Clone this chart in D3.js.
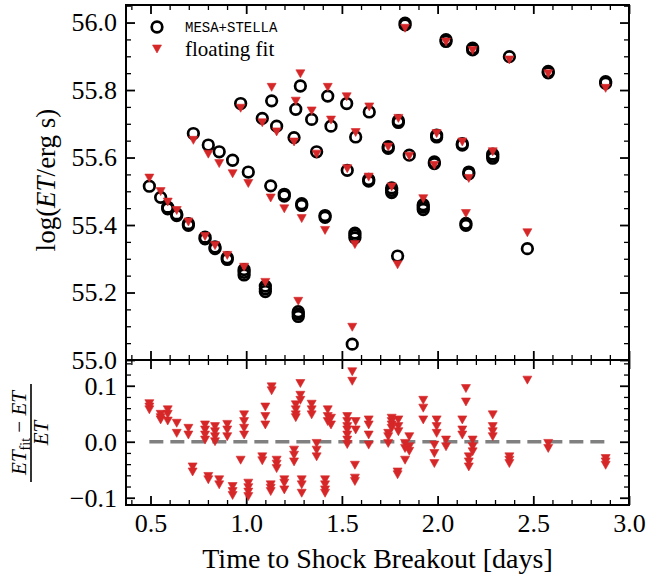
<!DOCTYPE html>
<html>
<head>
<meta charset="utf-8">
<script src="https://cdn.jsdelivr.net/npm/d3@7"></script>
<style>
  html, body { margin: 0; padding: 0; background: #fff; }
  svg { display: block; }
</style>
</head>
<body>
<svg id="chart" width="648" height="576"></svg>
<script>
// Energy-time ET : MESA+STELLA models vs floating fit, with fractional residuals

// --- top panel : one entry per model epoch
var timeDays = [
	0.494, 0.553, 0.590, 0.637, 0.698, 0.785, 0.837, 0.901, 0.989, 1.100, 1.272, 1.554,
	0.724, 0.802, 0.859, 0.929, 1.011, 1.128, 1.199, 1.290, 1.412, 1.568, 1.791,
	0.971, 1.084, 1.159, 1.250, 1.368, 1.528, 1.640, 1.760, 1.925, 2.148, 2.469,
	1.133, 1.259, 1.342, 1.443, 1.572, 1.742, 1.852, 1.983, 2.163,
	1.283, 1.426, 1.525, 1.643, 1.795, 1.995, 2.129, 2.288,
	1.830, 2.044, 2.183, 2.375, 2.578, 2.878
];
var logETsim = [
	55.515, 55.482, 55.448, 55.428, 55.399, 55.359, 55.330, 55.298, 55.260, 55.211, 55.136, 55.047,
	55.671, 55.637, 55.617, 55.592, 55.557, 55.516, 55.486, 55.458, 55.423, 55.369, 55.308,
	55.760, 55.716, 55.693, 55.659, 55.617, 55.562, 55.530, 55.503, 55.453, 55.399, 55.330,
	55.768, 55.743, 55.713, 55.693, 55.661, 55.627, 55.607, 55.582, 55.552,
	55.812, 55.782, 55.760, 55.735, 55.704, 55.661, 55.637, 55.604,
	55.993, 55.944, 55.919, 55.899, 55.851, 55.820
];
var logETfit = [
	55.539, 55.499, 55.468, 55.443, 55.409, 55.366, 55.339, 55.310, 55.275, 55.230, 55.174, 55.097,
	55.651, 55.610, 55.582, 55.552, 55.523, 55.480, 55.448, 55.419, 55.384, 55.342, 55.282,
	55.746, 55.703, 55.676, 55.646, 55.610, 55.567, 55.542, 55.513, 55.478, 55.434, 55.377,
	55.808, 55.767, 55.738, 55.711, 55.674, 55.631, 55.604, 55.577, 55.538,
	55.848, 55.808, 55.780, 55.750, 55.716, 55.671, 55.646, 55.617,
	55.983, 55.942, 55.917, 55.889, 55.848, 55.805
];

// near-identical models that stack on top of the points above
var stackTime = [0.590, 0.637, 0.698, 0.785, 0.837, 0.901, 0.989, 0.989, 1.100, 1.100, 1.272, 1.272,
	1.199, 1.290, 1.412, 1.568, 1.568, 1.640, 1.760, 1.760, 1.925, 1.925, 2.148,
	1.742, 1.983, 2.163, 1.795, 1.995, 2.129, 2.288, 2.288,
	1.830, 2.044, 2.183, 2.578, 2.878];
var stackLog = [55.453, 55.433, 55.404, 55.364, 55.335, 55.303, 55.268, 55.252, 55.219, 55.203, 55.143, 55.129,
	55.491, 55.463, 55.428, 55.376, 55.362, 55.535, 55.510, 55.496, 55.460, 55.446, 55.405,
	55.632, 55.587, 55.557, 55.709, 55.666, 55.641, 55.610, 55.598,
	55.998, 55.949, 55.924, 55.855, 55.825];

// --- bottom panel : (ET_fit - ET)/ET, several models per epoch
var residTime = [0.494, 0.553, 0.590, 0.637, 0.698, 0.720, 0.785, 0.802, 0.837, 0.859, 0.901, 0.929,
	0.971, 0.989, 1.011, 1.084, 1.100, 1.128, 1.133, 1.159, 1.199, 1.250, 1.259, 1.283, 1.290,
	1.342, 1.368, 1.412, 1.426, 1.443, 1.528, 1.554, 1.568, 1.572, 1.640, 1.742, 1.760, 1.791,
	1.795, 1.830, 1.852, 1.925, 1.983, 1.995, 2.044, 2.129, 2.148, 2.163, 2.183, 2.288, 2.375,
	2.469, 2.578, 2.878];
var residValues = [
	[0.068, 0.062, 0.057], [0.049, 0.043, 0.039], [0.057, 0.049, 0.037], [0.033, 0.015],
	[0.024, 0.012], [-0.045, -0.054], [0.030, 0.021, 0.012, 0.003], [-0.062, -0.068],
	[0.027, 0.018, 0.009, 0.000], [-0.068, -0.077], [0.031, 0.021, 0.009], [-0.080, -0.089, -0.096],
	[-0.033], [0.048, 0.036, 0.024, 0.012], [-0.074, -0.082, -0.090, -0.098], [-0.027, -0.034],
	[0.062, 0.045, 0.030], [-0.077, -0.083, -0.089], [0.098, 0.091], [-0.033, -0.040, -0.048],
	[-0.068, -0.074, -0.086], [-0.015, -0.024, -0.036], [0.066, 0.057, 0.048, 0.043],
	[0.104, 0.083, 0.074], [-0.068, -0.077, -0.092],
	[0.067, 0.057, 0.048], [-0.003, -0.015, -0.027], [-0.068, -0.077, -0.086, -0.092],
	[0.057, 0.045, 0.036], [0.042, 0.030], [0.045, 0.036, 0.027, 0.021, 0.012, 0.003, -0.005],
	[0.125, 0.108], [-0.042, -0.065, -0.071], [0.036, 0.021], [0.039, 0.030, 0.012, -0.006],
	[0.015, 0.009, -0.003], [0.042, 0.036, 0.030, 0.024], [-0.054, -0.059],
	[0.039, 0.027, 0.018], [-0.003, -0.012, -0.033], [0.009, -0.009, -0.017],
	[0.074, 0.060, 0.039], [-0.006, -0.021, -0.039], [0.039, 0.027, 0.015], [0.003, -0.009],
	[0.039, 0.021, 0.012], [0.095, 0.071], [-0.027, -0.036, -0.045], [0.003, -0.009, -0.018],
	[0.048, 0.027, 0.018, 0.009], [-0.027, -0.033, -0.039],
	[0.110], [-0.003, -0.012], [-0.030, -0.036, -0.042]
];

var xMajor = [0.5, 1.0, 1.5, 2.0, 2.5, 3.0];
var yTopMajor = [55.0, 55.2, 55.4, 55.6, 55.8, 56.0];
var yBotMajor = [-0.1, 0.0, 0.1];

var serif = "'Liberation Serif', 'DejaVu Serif', serif";
var red = "#d62728";

var svg = d3.select("#chart");

// panel edges (pixels)
var pLeft = 126, pRight = 629, pTop = 5, pMid = 360, pBottom = 505;

var x = d3.scaleLinear().domain([0.372, 3.0]).range([pLeft, pRight]);
var yTop = d3.scaleLinear().domain([55.0, 56.052]).range([pMid, pTop]);
var yBot = d3.scaleLinear().domain([-0.113, 0.146]).range([pBottom, pMid]);

function near(list, v) { return list.some(m => Math.abs(m - v) < 1e-6); }
var xMinor = d3.range(4, 31).map(d => d / 10).filter(d => !near(xMajor, d));
var yTopMinor = d3.range(0, 22).map(d => 55 + d * 0.05).filter(d => !near(yTopMajor, d));
var yBotMinor = d3.range(-5, 8).map(d => d * 0.02).filter(d => !near(yBotMajor, d));

// draw one set of inward ticks
function ticks(axisFn, scale, vals, len, pos, labels) {
	var ax = axisFn(scale).tickValues(vals).tickSize(-len).tickPadding(9)
		.tickFormat(labels ? d3.format(".1f") : "");
	var g = svg.append("g").attr("transform", pos).call(ax);
	g.select(".domain").remove();
	g.selectAll(".tick line").attr("stroke", "#000").attr("stroke-width", len > 6 ? 1.8 : 1.3);
	g.attr("font-family", serif).attr("font-size", 26);
	g.selectAll(".tick text").attr("fill", "#000");
	return g;
}

// top panel ticks
ticks(d3.axisLeft, yTop, yTopMajor, 9, "translate(" + pLeft + ",0)", true);
ticks(d3.axisLeft, yTop, yTopMinor, 5, "translate(" + pLeft + ",0)", false);
ticks(d3.axisRight, yTop, yTopMajor, 9, "translate(" + pRight + ",0)", false);
ticks(d3.axisRight, yTop, yTopMinor, 5, "translate(" + pRight + ",0)", false);
ticks(d3.axisTop, x, xMajor, 9, "translate(0," + pTop + ")", false);
ticks(d3.axisTop, x, xMinor, 5, "translate(0," + pTop + ")", false);
ticks(d3.axisBottom, x, xMajor, 9, "translate(0," + pMid + ")", false);
ticks(d3.axisBottom, x, xMinor, 5, "translate(0," + pMid + ")", false);

// bottom panel ticks
ticks(d3.axisLeft, yBot, yBotMajor, 9, "translate(" + pLeft + ",0)", true);
ticks(d3.axisLeft, yBot, yBotMinor, 5, "translate(" + pLeft + ",0)", false);
ticks(d3.axisRight, yBot, yBotMajor, 9, "translate(" + pRight + ",0)", false);
ticks(d3.axisRight, yBot, yBotMinor, 5, "translate(" + pRight + ",0)", false);
ticks(d3.axisTop, x, xMajor, 9, "translate(0," + pMid + ")", false);
ticks(d3.axisTop, x, xMinor, 5, "translate(0," + pMid + ")", false);
ticks(d3.axisBottom, x, xMajor, 9, "translate(0," + pBottom + ")", true);
ticks(d3.axisBottom, x, xMinor, 5, "translate(0," + pBottom + ")", false);

// frames
svg.append("rect").attr("x", pLeft).attr("y", pTop).attr("width", pRight - pLeft).attr("height", pMid - pTop)
	.attr("fill", "none").attr("stroke", "#000").attr("stroke-width", 2);
svg.append("rect").attr("x", pLeft).attr("y", pMid).attr("width", pRight - pLeft).attr("height", pBottom - pMid)
	.attr("fill", "none").attr("stroke", "#000").attr("stroke-width", 2);

var triPath = "M-4.5,-4L4.5,-4L0,4Z";

// top panel marks
var simPts = timeDays.map((t, i) => ({t: t, v: logETsim[i]}))
	.concat(stackTime.map((t, i) => ({t: t, v: stackLog[i]})));
svg.append("g").selectAll("circle")
	.data(simPts)
	.enter().append("circle")
	.attr("cx", d => x(d.t))
	.attr("cy", d => yTop(d.v))
	.attr("r", 5.3)
	.attr("fill", "none")
	.attr("stroke", "#000")
	.attr("stroke-width", 2.7);

svg.append("g").selectAll("path")
	.data(timeDays.map((t, i) => ({t: t, v: logETfit[i]})))
	.enter().append("path")
	.attr("d", triPath)
	.attr("transform", d => "translate(" + x(d.t) + "," + yTop(d.v) + ")")
	.attr("fill", red)
	.attr("stroke", red)
	.attr("stroke-width", 0.6);

// legend
svg.append("circle").attr("cx", 157).attr("cy", 27).attr("r", 5.3)
	.attr("fill", "none").attr("stroke", "#000").attr("stroke-width", 2.7);
svg.append("text").attr("x", 185).attr("y", 27).attr("dy", "0.35em")
	.attr("font-family", "'Liberation Mono', 'DejaVu Sans Mono', monospace").attr("font-size", 14)
	.text("MESA+STELLA");
svg.append("path").attr("d", triPath).attr("transform", "translate(157,49)")
	.attr("fill", red).attr("stroke", red).attr("stroke-width", 0.6);
svg.append("text").attr("x", 185).attr("y", 49).attr("dy", "0.35em")
	.attr("font-family", serif).attr("font-size", 21)
	.text("floating fit");

// bottom panel : zero line then residual triangles
var tExt = d3.extent(residTime);
svg.append("line")
	.attr("x1", x(tExt[0])).attr("x2", x(tExt[1]))
	.attr("y1", yBot(0)).attr("y2", yBot(0))
	.attr("stroke", "#808080").attr("stroke-width", 3.3)
	.attr("stroke-dasharray", "14,7");

var residPts = [];
residTime.forEach((t, i) => residValues[i].forEach(v => residPts.push({t: t, v: v})));
svg.append("g").selectAll("path")
	.data(residPts)
	.enter().append("path")
	.attr("d", triPath)
	.attr("transform", d => "translate(" + x(d.t) + "," + yBot(d.v) + ")")
	.attr("fill", red)
	.attr("stroke", red)
	.attr("stroke-width", 0.6);

// axis titles
svg.append("text")
	.attr("x", (pLeft + pRight) / 2).attr("y", 568)
	.attr("text-anchor", "middle")
	.attr("font-family", serif).attr("font-size", 28)
	.text("Time to Shock Breakout [days]");

var yl = svg.append("text")
	.attr("transform", "translate(46,180) rotate(-90)")
	.attr("text-anchor", "middle").attr("dy", "0.35em")
	.attr("font-family", serif).attr("font-size", 27);
yl.append("tspan").text("log(");
yl.append("tspan").attr("font-style", "italic").text("ET");
yl.append("tspan").text("/erg s)");

var frac = svg.append("g").attr("transform", "translate(31,433) rotate(-90)")
	.attr("font-family", serif).attr("font-size", 21);
var num = frac.append("text").attr("x", 0).attr("y", -5).attr("text-anchor", "middle");
num.append("tspan").attr("font-style", "italic").text("ET");
num.append("tspan").attr("font-size", 14).attr("dy", 4).text("fit");
num.append("tspan").attr("dy", -4).text(" \u2212 ");
num.append("tspan").attr("font-style", "italic").text("ET");
frac.append("line").attr("x1", -49).attr("x2", 49).attr("y1", 0).attr("y2", 0)
	.attr("stroke", "#000").attr("stroke-width", 1.6);
frac.append("text").attr("x", 0).attr("y", 17).attr("text-anchor", "middle")
	.attr("font-style", "italic").text("ET");
</script>
</body>
</html>
